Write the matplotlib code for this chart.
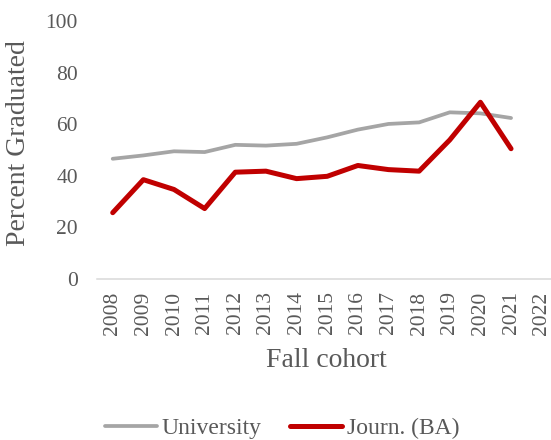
# -*- coding: utf-8 -*-

'''
Graduation rate by fall cohort: University vs Journalism (BA).
'''

import numpy as np
import matplotlib
matplotlib.use('Agg')
import matplotlib.pyplot as plt

# Cohort years on the category axis (2022 has no data yet).
cohorts = ['2008', '2009', '2010', '2011', '2012', '2013', '2014', '2015',
           '2016', '2017', '2018', '2019', '2020', '2021', '2022']

univ_pct = [46.6, 47.9, 49.5, 49.2, 52.0, 51.7, 52.4, 54.9,
            57.9, 60.1, 60.7, 64.6, 64.2, 62.4, np.nan]

journ_pct = [25.7, 38.5, 34.7, 27.3, 41.4, 41.8, 38.9, 39.8,
             44.0, 42.4, 41.8, 53.9, 68.5, 50.5, np.nan]

y_ticks = [0, 20, 40, 60, 80, 100]

TXT_CLR = '#595959'


def main():

    plt.rcParams['font.family'] = ['Liberation Serif', 'DejaVu Serif']

    fig = plt.figure(figsize=(5.51, 4.40), dpi=100)

    # Plot area runs slightly past the right edge, as in the original.
    ax = fig.add_axes([97.4 / 551, 161 / 440, 459.6 / 551, 258 / 440])

    x_pos = np.arange(len(cohorts))

    ax.plot(x_pos, univ_pct, color='#A5A5A5', lw=2.7,
            solid_capstyle='round', solid_joinstyle='round',
            label='University')
    ax.plot(x_pos, journ_pct, color='#C00000', lw=3.6,
            solid_capstyle='round', solid_joinstyle='round',
            label='Journ. (BA)')

    ax.set_xlim(-0.5, len(cohorts) - 0.5)
    ax.set_ylim(0, 100)

    ax.set_xticks(x_pos)
    ax.set_xticklabels(cohorts, rotation=90, fontsize=15.5, color=TXT_CLR)
    ax.set_yticks(y_ticks)
    ax.set_yticklabels([str(v) for v in y_ticks], fontsize=15.5,
                       color=TXT_CLR)

    ax.tick_params(axis='x', length=0, pad=9)
    ax.tick_params(axis='y', length=0, pad=14)

    for side in ('top', 'right', 'left'):
        ax.spines[side].set_visible(False)
    ax.spines['bottom'].set_color('#D9D9D9')
    ax.spines['bottom'].set_linewidth(1.1)

    fig.text(326.7 / 551, 1 - 360 / 440, 'Fall cohort',
             ha='center', va='center', fontsize=20, color=TXT_CLR)
    fig.text(19 / 551, 1 - 143 / 440, 'Percent Graduated', rotation=90,
             ha='center', va='center', fontsize=20, color=TXT_CLR)

    leg = fig.legend(
        loc='center', bbox_to_anchor=(282 / 551, 1 - 428 / 440),
        ncol=2, frameon=False, fontsize=17, handlelength=2.2,
        handletextpad=0.2, columnspacing=1.2, borderpad=0)
    for txt in leg.get_texts():
        txt.set_color(TXT_CLR)

    fig.savefig('out.png', dpi=100)
    plt.close(fig)
    return


if __name__ == '__main__':
    main()
